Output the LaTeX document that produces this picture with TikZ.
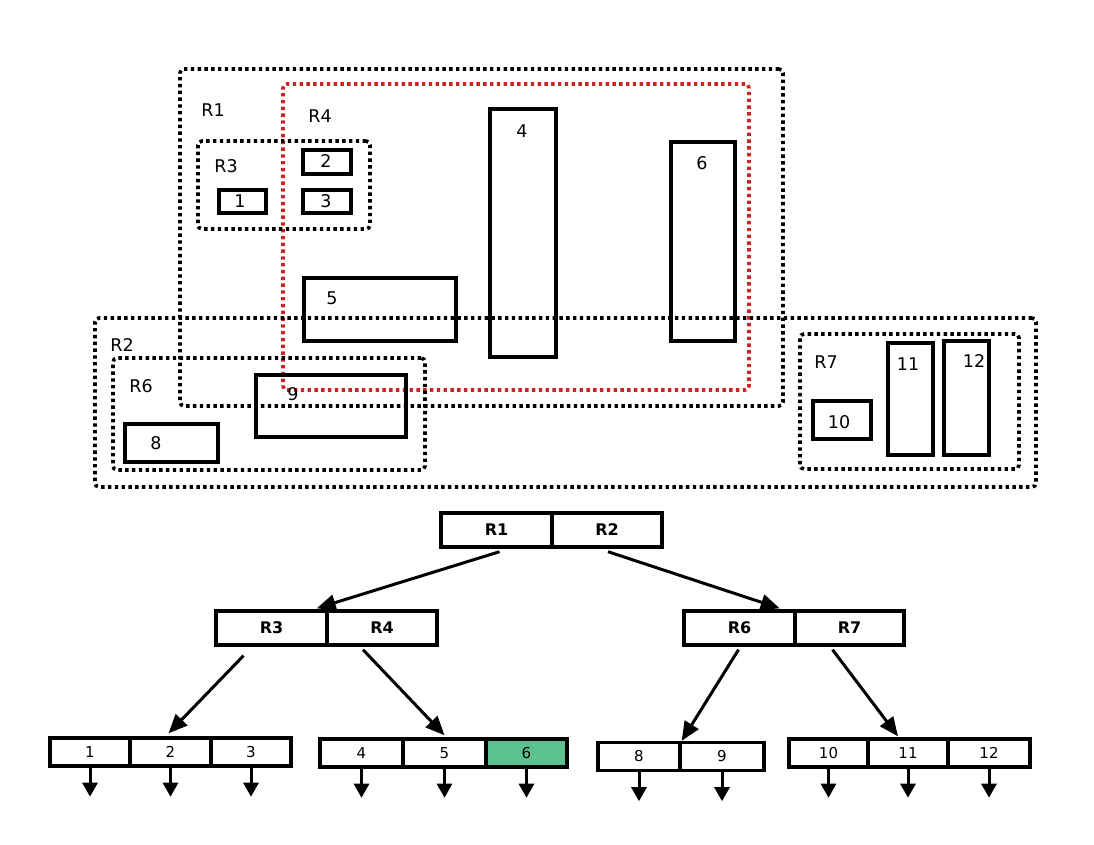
\documentclass[tikz,border=0pt]{standalone}
\usepackage{fontspec}
\setmainfont{DejaVu Sans}
\usetikzlibrary{arrows.meta}
\definecolor{dotred}{RGB}{205,35,35}
\definecolor{leafgreen}{RGB}{92,192,143}
\begin{document}
\begin{tikzpicture}[x=1pt,y=-1pt,
  region/.style={draw, line width=3.6pt, dash pattern=on 3.4pt off 3.4pt, rounded corners=4pt, inner sep=0pt},
  obj/.style={draw, line width=4pt, inner sep=0pt},
  toplabel/.style={font=\fontsize{17.5}{20}\selectfont, inner sep=0pt},
  cell/.style={draw, line width=3.4pt, inner sep=0pt, minimum height=34pt, font=\fontsize{16}{18}\selectfont\bfseries},
  leaf/.style={draw, line width=3.4pt, inner sep=0pt, minimum height=28pt, font=\fontsize{15}{17}\selectfont},
  conn/.style={line width=3pt, -{Triangle[length=19pt,width=16pt]}},
  down/.style={line width=3pt, -{Triangle[length=14pt,width=15pt]}}]
\useasboundingbox (0,0) rectangle (1094,844);
% regions
\node[region, minimum width=603pt, minimum height=337pt] (rg1) at (481.5,237.5) {};
\node[region, draw=dotred, minimum width=466pt, minimum height=306pt] (rg4) at (516,237) {};
\node[region, minimum width=172pt, minimum height=88pt] (rg3) at (284,185) {};
\node[region, minimum width=941pt, minimum height=169pt] (rg2) at (565.5,402.5) {};
\node[region, minimum width=312pt, minimum height=112pt] (rg6) at (269,414) {};
\node[region, minimum width=219pt, minimum height=135pt] (rg7) at (909.5,401.5) {};
% objects
\node[obj, minimum width=47pt, minimum height=23pt] (o1) at (242,201) {};
\node[obj, minimum width=48pt, minimum height=24pt] (o2) at (326.5,161.5) {};
\node[obj, minimum width=48pt, minimum height=23pt] (o3) at (326.5,201) {};
\node[obj, minimum width=66pt, minimum height=248pt] (o4) at (522.5,232.5) {};
\node[obj, minimum width=152pt, minimum height=63pt] (o5) at (379.5,309) {};
\node[obj, minimum width=64pt, minimum height=199pt] (o6) at (702.5,241) {};
\node[obj, minimum width=150pt, minimum height=62pt] (o9) at (330.5,405.5) {};
\node[obj, minimum width=93pt, minimum height=38pt] (o8) at (171,442.5) {};
\node[obj, minimum width=58pt, minimum height=38pt] (o10) at (841.5,419.5) {};
\node[obj, minimum width=45pt, minimum height=112pt] (o11) at (910,398.5) {};
\node[obj, minimum width=45pt, minimum height=114pt] (o12) at (966,397.5) {};
% labels
\node[toplabel] (lR1) at (213,110) {R1};
\node[toplabel] (lR4) at (320,116) {R4};
\node[toplabel] (lR3) at (226,166) {R3};
\node[toplabel] (l2) at (326,161) {2};
\node[toplabel] (l3) at (326,201) {3};
\node[toplabel] (l1) at (240,201) {1};
\node[toplabel] (l4) at (522,131) {4};
\node[toplabel] (l6) at (702,163) {6};
\node[toplabel] (l5) at (332,298) {5};
\node[toplabel] (lR2) at (122,345) {R2};
\node[toplabel] (lR6) at (141,386) {R6};
\node[toplabel] (l9) at (293,394) {9};
\node[toplabel] (l8) at (156,443) {8};
\node[toplabel] (lR7) at (826,362) {R7};
\node[toplabel] (l10) at (839,422) {10};
\node[toplabel] (l11) at (908,364) {11};
\node[toplabel] (l12) at (974,361) {12};
% tree
\node[cell, minimum width=111pt] (r1) at (496.5,530) {R1};
\node[cell, minimum width=110pt] (r2) at (607,530) {R2};
\node[cell, minimum width=111pt] (r3) at (271.5,628) {R3};
\node[cell, minimum width=110pt] (r4) at (382,628) {R4};
\node[cell, minimum width=111pt] (r6) at (739.5,628) {R6};
\node[cell, minimum width=109pt] (r7) at (849.5,628) {R7};
% leaves
\node[leaf, minimum width=80pt] (a1) at (90,752) {1};
\node[leaf, minimum width=81pt] (a2) at (170.5,752) {2};
\node[leaf, minimum width=80pt] (a3) at (251,752) {3};
\node[leaf, minimum width=83pt] (b1) at (361.5,753) {4};
\node[leaf, minimum width=83pt] (b2) at (444.5,753) {5};
\node[leaf, fill=leafgreen, minimum width=81pt] (b3) at (526.5,753) {6};
\node[leaf, minimum width=82pt] (c1) at (639,756.5) {8};
\node[leaf, minimum width=84pt] (c2) at (722,756.5) {9};
\node[leaf, minimum width=79pt] (d1) at (828.5,753) {10};
\node[leaf, minimum width=80pt] (d2) at (908,753) {11};
\node[leaf, minimum width=82pt] (d3) at (989,753) {12};
% connectors
\draw[conn] ([xshift=3pt,yshift=-3pt]r1.south) -- ([xshift=-12pt,yshift=1pt]r3.north east);
\draw[conn] ([xshift=1pt,yshift=-3pt]r2.south) -- ([xshift=-17pt,yshift=1pt]r6.north east);
\draw[conn] ([xshift=-28pt,yshift=-9pt]r3.south) -- ([xshift=-2pt,yshift=3pt]a2.north);
\draw[conn] ([xshift=-19pt,yshift=-3pt]r4.south) -- ([xshift=0pt,yshift=2pt]b2.north);
\draw[conn] ([xshift=-1pt,yshift=-3pt]r6.south) -- ([yshift=0pt]c1.north east);
\draw[conn] ([xshift=-17pt,yshift=-3pt]r7.south) -- ([xshift=-10pt,yshift=1pt]d2.north);
% down arrows
\foreach \n in {a1,a2,a3,b1,b2,b3,c1,c2,d1,d2,d3}{
  \coordinate (\n-end) at ([yshift=-29pt]\n.south);
  \draw[down] (\n.south) -- (\n-end);
}
\end{tikzpicture}
\end{document}
